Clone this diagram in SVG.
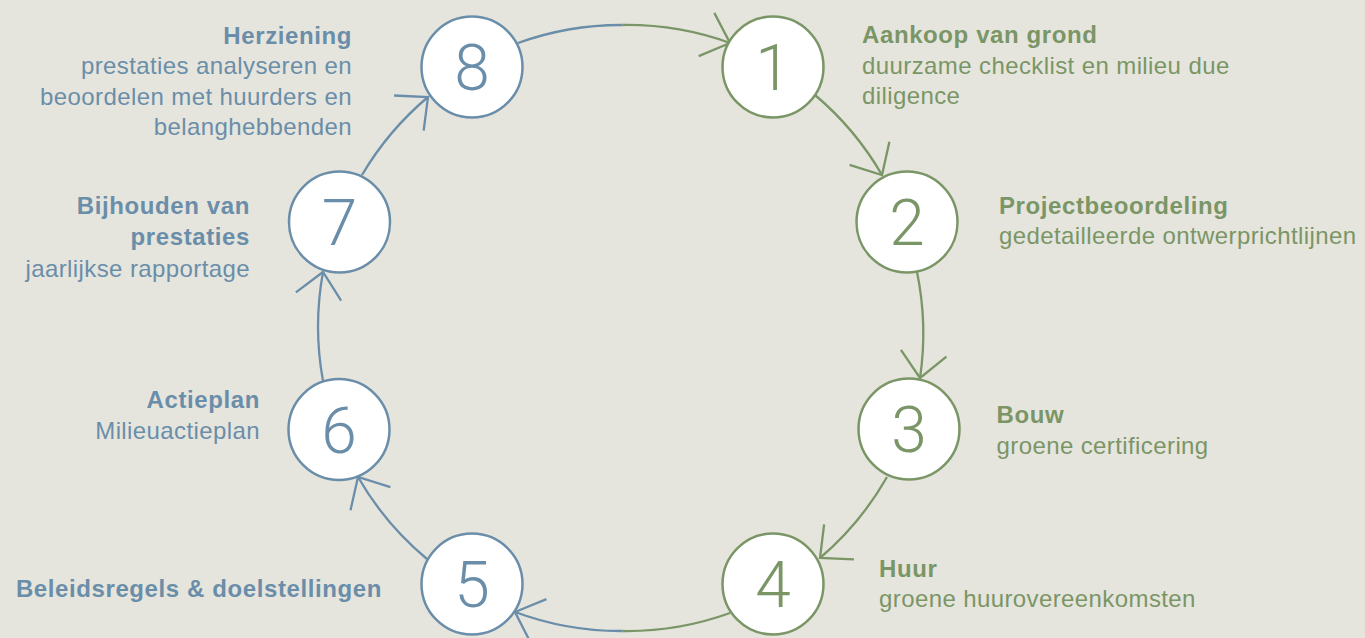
<svg xmlns="http://www.w3.org/2000/svg" width="1365" height="638" viewBox="0 0 1365 638">
<style>
.bg{fill:#e6e5dd}
.ng circle{fill:#ffffff;stroke:#7a9666;stroke-width:2.5}
.nb circle{fill:#ffffff;stroke:#6a8ea9;stroke-width:2.5}
.num{font-family:Roboto,"Liberation Sans",sans-serif;font-weight:300;font-size:64px;text-anchor:middle}
.ng text{fill:#7a9666}
.nb text{fill:#6a8ea9}
.t{font-family:"Liberation Sans",Arial,sans-serif;font-weight:bold;font-size:24px;letter-spacing:0.6px}
.d{font-family:"Liberation Sans",Arial,sans-serif;font-size:24px;letter-spacing:0.4px}
.L{text-anchor:end}
.cg{fill:none;stroke:#7a9666;stroke-width:2.3}
.cb{fill:none;stroke:#6a8ea9;stroke-width:2.3}
</style>
<defs>
<marker id="ag" markerUnits="userSpaceOnUse" orient="auto" refX="0" refY="0" markerWidth="60" markerHeight="60" overflow="visible">
<path d="M-25,-23 L0,0 L-25,23" fill="none" stroke="#7a9666" stroke-width="2.3"/>
</marker>
<marker id="ab" markerUnits="userSpaceOnUse" orient="auto" refX="0" refY="0" markerWidth="60" markerHeight="60" overflow="visible">
<path d="M-25,-23 L0,0 L-25,23" fill="none" stroke="#6a8ea9" stroke-width="2.3"/>
</marker>
</defs>
<rect class="bg" x="0" y="0" width="1365" height="638"/>
<g id="connectors">
<path class="cb" d="M518,43 A303,303 0 0 1 622.5,25"/>
<path class="cg" d="M622.5,25 A303,303 0 0 1 730,43" marker-end="url(#ag)"/>
<path class="cg" d="M815,95 A303,303 0 0 1 882,175" marker-end="url(#ag)"/>
<path class="cg" d="M917,272 A303,303 0 0 1 920,378" marker-end="url(#ag)"/>
<path class="cg" d="M887,477 A303,303 0 0 1 820,558" marker-end="url(#ag)"/>
<path class="cg" d="M730,613 A303,303 0 0 1 622.5,631"/>
<path class="cb" d="M622.5,631 A303,303 0 0 1 515,612" marker-end="url(#ab)"/>
<path class="cb" d="M427,559 A303,303 0 0 1 358,477" marker-end="url(#ab)"/>
<path class="cb" d="M323,381 A303,303 0 0 1 323,272" marker-end="url(#ab)"/>
<path class="cb" d="M362,175 A303,303 0 0 1 428,97" marker-end="url(#ab)"/>
</g>
<g id="node1" class="ng">
<circle cx="773" cy="67" r="50.5"/>
<text class="num" x="773" y="90">1</text>
<text class="t" x="862" y="43">Aankoop van grond</text>
<text class="d" x="862" y="73.5">duurzame checklist en milieu due</text>
<text class="d" x="862" y="103.5">diligence</text>
</g>
<g id="node2" class="ng">
<circle cx="907" cy="222" r="50.5"/>
<text class="num" x="907" y="245">2</text>
<text class="t" x="999" y="214">Projectbeoordeling</text>
<text class="d" x="999" y="244">gedetailleerde ontwerprichtlijnen</text>
</g>
<g id="node3" class="ng">
<circle cx="909" cy="429" r="50.5"/>
<text class="num" x="909" y="452">3</text>
<text class="t" x="996.5" y="423">Bouw</text>
<text class="d" x="996.5" y="454">groene certificering</text>
</g>
<g id="node4" class="ng">
<circle cx="773" cy="584" r="50.5"/>
<text class="num" x="773" y="607">4</text>
<text class="t" x="879" y="577">Huur</text>
<text class="d" x="879" y="607">groene huurovereenkomsten</text>
</g>
<g id="node5" class="nb">
<circle cx="472" cy="584" r="50.5"/>
<text class="num" x="472" y="607">5</text>
<text class="t L" x="382" y="596.5">Beleidsregels &amp; doelstellingen</text>
</g>
<g id="node6" class="nb">
<circle cx="339" cy="429.5" r="50.5"/>
<text class="num" x="339" y="452.5">6</text>
<text class="t L" x="260" y="407.5">Actieplan</text>
<text class="d L" x="260" y="439">Milieuactieplan</text>
</g>
<g id="node7" class="nb">
<circle cx="339.5" cy="222" r="50.5"/>
<text class="num" x="339.5" y="245">7</text>
<text class="t L" x="250" y="214">Bijhouden van</text>
<text class="t L" x="250" y="245">prestaties</text>
<text class="d L" x="250" y="277">jaarlijkse rapportage</text>
</g>
<g id="node8" class="nb">
<circle cx="472" cy="67" r="50.5"/>
<text class="num" x="472" y="90">8</text>
<text class="t L" x="352" y="44">Herziening</text>
<text class="d L" x="352" y="74">prestaties analyseren en</text>
<text class="d L" x="352" y="104.5">beoordelen met huurders en</text>
<text class="d L" x="352" y="135">belanghebbenden</text>
</g>
</svg>
